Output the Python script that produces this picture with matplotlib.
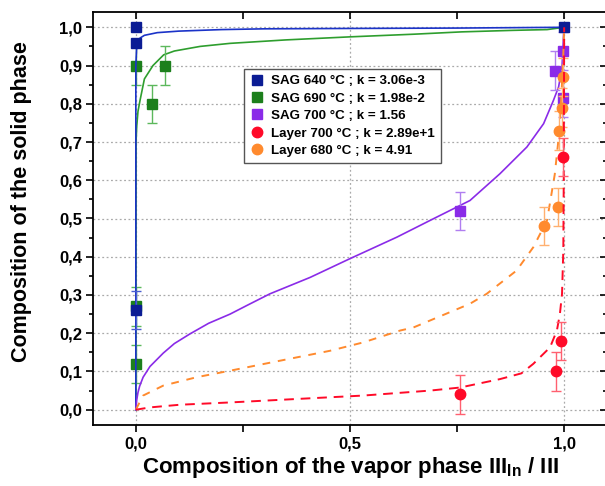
import matplotlib
matplotlib.use("Agg")
import matplotlib.pyplot as plt
from matplotlib.lines import Line2D
from matplotlib.ticker import MultipleLocator, FuncFormatter

plt.rcParams['font.family'] = ['Liberation Sans', 'DejaVu Sans']
plt.rcParams['font.weight'] = 'bold'
plt.rcParams['mathtext.fontset'] = 'custom'
plt.rcParams['mathtext.rm'] = 'Liberation Sans:bold'
plt.rcParams['mathtext.bf'] = 'Liberation Sans:bold'

# measured points (x vapor, y solid, error)
sag640_x = [0.0, 0.0, 0.0, 1.0]
sag640_y = [1.0, 0.96, 0.26, 1.0]
sag640_err = [0.0, 0.0, 0.05, 0.0]

sag690_x = [0.0, 0.0, 0.0, 0.037, 0.068]
sag690_y = [0.90, 0.27, 0.12, 0.80, 0.90]
sag690_err = [0.05, 0.05, 0.05, 0.05, 0.05]

sag700_x = [0.757, 0.979, 0.997, 0.997]
sag700_y = [0.52, 0.887, 0.938, 0.815]
sag700_err = [0.05, 0.05, 0.05, 0.05]

lay700_x = [0.757, 0.981, 0.993, 0.998]
lay700_y = [0.04, 0.10, 0.18, 0.66]
lay700_err = [0.05, 0.05, 0.05, 0.05]

lay680_x = [0.953, 0.985, 0.989, 0.995, 0.997]
lay680_y = [0.48, 0.53, 0.73, 0.79, 0.87]
lay680_err = [0.05, 0.05, 0.05, 0.05, 0.05]

# fitted curves
fit640_x = [0.0, 0.0, 0.002, 0.005, 0.01, 0.02, 0.05, 0.1, 0.2, 0.3, 0.5, 0.75, 1.0]
fit640_y = [0.0, 0.90, 0.95, 0.963, 0.972, 0.979, 0.986, 0.990, 0.994, 0.996, 0.997, 0.998, 1.0]

fit690_x = [0.0, 0.0005, 0.002, 0.005, 0.01, 0.02, 0.04, 0.065, 0.09, 0.15, 0.22, 0.35, 0.5,
            0.65, 0.76, 0.88, 0.96, 1.0]
fit690_y = [0.0, 0.70, 0.74, 0.78, 0.81, 0.865, 0.90, 0.928, 0.938, 0.95, 0.958, 0.967, 0.975,
            0.982, 0.988, 0.992, 0.994, 1.0]

fit700_x = [0.0, 0.002, 0.005, 0.009, 0.017, 0.033, 0.064, 0.09, 0.126, 0.17, 0.22, 0.26,
            0.313, 0.407, 0.498, 0.609, 0.687, 0.78, 0.85, 0.913, 0.952, 0.975, 0.987, 0.995,
            0.998, 1.0]
fit700_y = [0.0, 0.025, 0.045, 0.062, 0.085, 0.113, 0.148, 0.173, 0.198, 0.226, 0.25, 0.273,
            0.303, 0.346, 0.394, 0.451, 0.495, 0.547, 0.617, 0.687, 0.748, 0.809, 0.844, 0.896,
            0.966, 1.0]

fitl680_x = [0.0, 0.017, 0.064, 0.142, 0.22, 0.336, 0.453, 0.531, 0.617, 0.648, 0.78, 0.819,
             0.889, 0.928, 0.96, 0.978, 0.988, 0.994, 0.998, 1.0]
fitl680_y = [0.0, 0.037, 0.063, 0.085, 0.102, 0.128, 0.154, 0.176, 0.207, 0.215, 0.277, 0.303,
             0.364, 0.425, 0.495, 0.615, 0.72, 0.83, 0.93, 1.0]

fitl700_x = [0.0, 0.033, 0.103, 0.22, 0.375, 0.531, 0.687, 0.757, 0.85, 0.90, 0.928, 0.967,
             0.983, 0.990, 0.995, 0.998, 0.999, 1.0]
fitl700_y = [0.0, 0.006, 0.013, 0.019, 0.028, 0.037, 0.05, 0.058, 0.08, 0.095, 0.12, 0.163,
             0.207, 0.25, 0.303, 0.416, 0.6, 1.0]

labels = ["SAG 640 °C ; k = 3.06e-3", "SAG 690 °C ; k = 1.98e-2", "SAG 700 °C ; k = 1.56",
          "Layer 700 °C ; k = 2.89e+1", "Layer 680 °C ; k = 4.91"]

c_blue, c_blue_l = "#0b1c94", "#1b33c8"
c_green, c_green_l = "#1c7f1c", "#2e9e2e"
c_violet = "#8a2be8"
c_red = "#ff0a28"
c_orange = "#ff8a2e"

fig = plt.figure(figsize=(6.05, 4.86), dpi=100)
ax = fig.add_axes([93 / 605, 61 / 486, 514 / 605, 413 / 486])

ax.set_xlim(-0.1, 1.1)
ax.set_ylim(-0.04, 1.04)

# grid
for yv in [i / 10 for i in range(11)]:
    ax.axhline(yv, color="#aaaaaa", ls=(0, (1.5, 2)), lw=0.9, zorder=0)
for xv in [0.0, 0.5, 1.0]:
    ax.axvline(xv, color="#aaaaaa", ls=(0, (1.5, 2)), lw=0.9, zorder=0)

# SAG 690
ax.plot(fit690_x, fit690_y, color=c_green_l, lw=1.2, zorder=2)
ax.errorbar(sag690_x, sag690_y, yerr=sag690_err, fmt="s", color=c_green, ms=7,
            ecolor="#5cb85c", elinewidth=1, capsize=3.5, capthick=1, zorder=3)
# SAG 640
ax.plot(fit640_x, fit640_y, color=c_blue_l, lw=1.2, zorder=4)
ax.errorbar(sag640_x, sag640_y, yerr=sag640_err, fmt="s", color=c_blue, ms=7,
            ecolor="#4a5fd0", elinewidth=1, capsize=3.5, capthick=1, zorder=4)
# SAG 700
ax.plot(fit700_x, fit700_y, color=c_violet, lw=1.2, zorder=4)
ax.errorbar(sag700_x, sag700_y, yerr=sag700_err, fmt="s", color=c_violet, ms=7,
            ecolor="#b07ef0", elinewidth=1, capsize=3.5, capthick=1, zorder=4)
# Layer 680
ax.plot(fitl680_x, fitl680_y, color=c_orange, lw=1.4, dashes=(4, 4), zorder=5)
ax.errorbar(lay680_x, lay680_y, yerr=lay680_err, fmt="o", color=c_orange, ms=7.5,
            ecolor="#ffb070", elinewidth=1, capsize=3.5, capthick=1, zorder=5)
# Layer 700
ax.plot(fitl700_x, fitl700_y, color=c_red, lw=1.4, dashes=(5, 3.5), zorder=6)
ax.errorbar(lay700_x, lay700_y, yerr=lay700_err, fmt="o", color=c_red, ms=7.5,
            ecolor="#ff6070", elinewidth=1, capsize=3.5, capthick=1, zorder=6)

# ticks
comma = FuncFormatter(lambda v, p: f"{v:.1f}".replace(".", ","))
ax.xaxis.set_major_locator(MultipleLocator(0.5))
ax.xaxis.set_minor_locator(MultipleLocator(0.25))
ax.yaxis.set_major_locator(MultipleLocator(0.1))
ax.yaxis.set_minor_locator(MultipleLocator(0.05))
ax.xaxis.set_major_formatter(comma)
ax.yaxis.set_major_formatter(comma)
ax.tick_params(axis="both", which="major", labelsize=12, width=1.2, length=5, pad=3)
ax.tick_params(axis="both", which="minor", width=1.2, length=5)
ax.tick_params(axis="y", which="minor", length=3)
ax.tick_params(axis="y", which="both", right=True, direction="out")
ax.tick_params(axis="x", which="both", top=True, direction="out")
for t in ax.yaxis.get_major_ticks() + ax.yaxis.get_minor_ticks():
    t.tick2line.set_marker(0)
for t in ax.xaxis.get_major_ticks() + ax.xaxis.get_minor_ticks():
    t.tick2line.set_marker(3)
for s in ax.spines.values():
    s.set_linewidth(1.3)

ax.set_xlabel(r"Composition of the vapor phase III$_{\mathbf{In}}$ / III", fontsize=16,
              fontweight="bold")
ax.xaxis.set_label_coords(0.5, -0.104)
ax.xaxis.label.set_va("center")
ax.set_ylabel("Composition of the solid phase", fontsize=15.5, fontweight="bold")
ax.yaxis.set_label_coords(-0.14, 0.54)
ax.yaxis.label.set_va("center")

handles = [
    Line2D([], [], ls="none", marker="s", color=c_blue, ms=7),
    Line2D([], [], ls="none", marker="s", color=c_green, ms=7),
    Line2D([], [], ls="none", marker="s", color=c_violet, ms=7),
    Line2D([], [], ls="none", marker="o", color=c_red, ms=7.5),
    Line2D([], [], ls="none", marker="o", color=c_orange, ms=7.5),
]
leg = ax.legend(handles, labels, loc="upper left", bbox_to_anchor=(0.294, 0.862),
                borderaxespad=0, prop={"size": 9.6, "weight": "bold"}, fancybox=False,
                framealpha=1, edgecolor="#555555", borderpad=0.45, labelspacing=0.38,
                handletextpad=0.6, handlelength=1.0)
leg.get_frame().set_linewidth(1.0)
leg.set_zorder(10)

fig.savefig("out.png", dpi=100)
